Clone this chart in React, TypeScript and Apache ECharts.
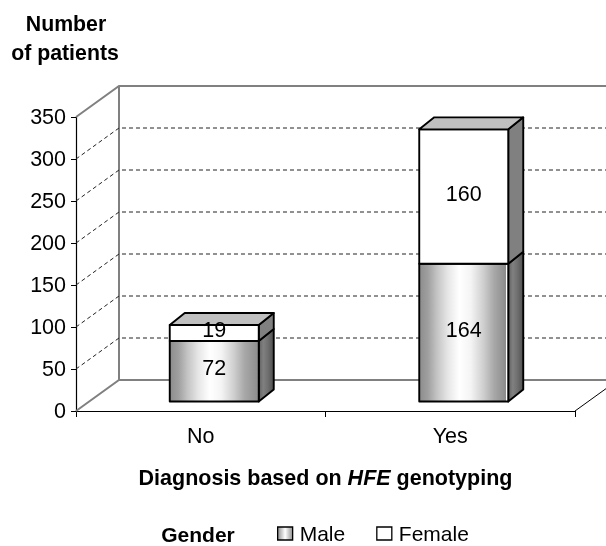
import React, { useEffect, useRef } from "react";
import * as echarts from "echarts";

const categories = ["No", "Yes"];
const maleValues = [72, 164];
const femaleValues = [19, 160];
const yTicks = [0, 50, 100, 150, 200, 250, 300, 350];

const W = 606, H = 546;
const FONT = "'Liberation Sans', Arial, sans-serif";
const DX = 43, DY = 31;          // wall depth
const BAR_OFF_X = 13.5, BAR_OFF_Y = 9.5, BAR_DX = 15, BAR_DY = 12, BAR_W = 89;

const hGrad = (stops: [number, string][]) => new echarts.graphic.LinearGradient(0, 0, 1, 0, stops.map(([offset, color]) => ({ offset, color })));
const frontMale = (whiteEdge: boolean) => hGrad([
  [0, "#8c8c8c"], [0.1, "#a0a0a0"], [0.2, "#c4c4c4"], [0.32, "#e6e6e6"], [0.45, "#ffffff"], [0.58, "#f4f4f4"],
  [0.72, "#cfcfcf"], [0.84, "#a8a8a8"], [whiteEdge ? 0.97 : 1, "#8c8c8c"], ...(whiteEdge ? [[0.97, "#ffffff"], [1, "#ffffff"]] as [number, string][] : []),
]);
const sideMale = () => hGrad([[0, "#606060"], [0.3, "#808080"], [0.6, "#707070"], [1, "#505050"]]);

function box(api: any, idx: number, lo: number, hi: number, male: boolean, label: number) {
  const [cx, y0] = api.coord([idx, lo]);
  const [, y1] = api.coord([idx, hi]);
  const xl = cx - BAR_W / 2 + BAR_OFF_X, xr = xl + BAR_W;
  const yb = y0 - BAR_OFF_Y, yt = y1 - BAR_OFF_Y;
  const stroke = { stroke: "#000", lineWidth: 1.9, lineJoin: "round" };
  const kids: any[] = [
    { type: "polygon", shape: { points: [[xr, yb], [xr + BAR_DX, yb - BAR_DY], [xr + BAR_DX, yt - BAR_DY], [xr, yt]] },
      style: { fill: male ? sideMale() : "#808080", ...stroke } },
    { type: "rect", shape: { x: xl, y: yt, width: BAR_W, height: yb - yt },
      style: { fill: male ? frontMale(idx === 1) : "#ffffff", ...stroke } },
  ];
  if (!male) kids.push({ type: "polygon", shape: { points: [[xl, yt], [xl + BAR_DX, yt - BAR_DY], [xr + BAR_DX, yt - BAR_DY], [xr, yt]] },
    style: { fill: "#c0c0c0", ...stroke } });
  kids.push({ type: "text", style: { text: String(label), x: (xl + xr) / 2, y: (yb + yt) / 2 - 3, align: "center", verticalAlign: "middle",
    font: `21.5px ${FONT}`, fill: "#000" } });
  return { type: "group", children: kids };
}

export default function App() {
  const ref = useRef<HTMLDivElement>(null);
  useEffect(() => {
    document.body.style.margin = "0";
    const chart = echarts.init(ref.current!, undefined, { renderer: "svg" });
    chart.setOption({
      animation: false,
      textStyle: { fontFamily: FONT },
      grid: { left: 76, right: 31, top: 117, bottom: 135 },
      xAxis: {
        type: "category", data: categories,
        axisLine: { lineStyle: { color: "#000", width: 1.2 } },
        axisTick: { show: true, alignWithLabel: false, length: 6, lineStyle: { color: "#000" } },
        axisLabel: { color: "#000", fontSize: 21.5, margin: 14 },
        name: "{b|Diagnosis based on }{i|HFE}{b| genotyping}",
        nameLocation: "middle", nameGap: 56,
        nameTextStyle: { rich: {
          b: { fontWeight: "bold", fontSize: 21.5, color: "#000", fontFamily: FONT },
          i: { fontWeight: "bold", fontStyle: "italic", fontSize: 21.5, color: "#000", fontFamily: FONT },
        } },
      },
      yAxis: {
        type: "value", min: 0, max: 350, interval: 50,
        axisLine: { show: true, lineStyle: { color: "#000", width: 1.2 } },
        axisTick: { show: true, length: 5, lineStyle: { color: "#000" } },
        axisLabel: { color: "#000", fontSize: 21.5, margin: 10 },
        splitLine: { show: false },
      },
      legend: {
        left: 277, top: 523, padding: 0, itemGap: 31, itemWidth: 15, itemHeight: 13, icon: "rect",
        textStyle: { color: "#000", fontSize: 21, lineHeight: 16, fontFamily: FONT, padding: [0, 0, 0, 2] },
        data: [
          { name: "Male", itemStyle: { color: hGrad([[0, "#909090"], [0.5, "#ffffff"], [1, "#909090"]]), borderColor: "#000", borderWidth: 1.3 } },
          { name: "Female", itemStyle: { color: "#ffffff", borderColor: "#000", borderWidth: 1.3 } },
        ],
      },
      graphic: [
        { type: "text", style: { text: "Number", x: 66, y: 24, align: "center", verticalAlign: "middle", font: `bold 21.3px ${FONT}`, fill: "#000" } },
        { type: "text", style: { text: "of patients", x: 65, y: 53, align: "center", verticalAlign: "middle", font: `bold 21.3px ${FONT}`, fill: "#000" } },
        { type: "text", style: { text: "Gender", x: 198, y: 534.5, align: "center", verticalAlign: "middle", font: `bold 21px ${FONT}`, fill: "#000" } },
      ],
      series: [
        {
          type: "custom", name: "walls", coordinateSystem: "cartesian2d", silent: true, z: 1,
          encode: { y: 0 }, data: yTicks.map((t) => [t]),
          renderItem: (params: any, api: any) => {
            const cs = params.coordSys;
            const t = api.value(0);
            const y = api.coord([0, t])[1];
            const xL = cs.x, xB = cs.x + DX, yB = y - DY, xR = W;
            if (t === 0 || t === 350) {
              const kids: any[] = [{ type: "polyline", shape: { points: [[xL, y], [xB, yB], [xR, yB]] }, style: { fill: "none", stroke: "#808080", lineWidth: 2 } }];
              if (t === 0) {
                const top = api.coord([0, 350])[1] - DY;
                kids.push({ type: "line", shape: { x1: xB, y1: yB, x2: xB, y2: top }, style: { stroke: "#808080", lineWidth: 2 } });
                kids.push({ type: "line", shape: { x1: cs.x + cs.width, y1: y, x2: cs.x + cs.width + DX, y2: yB }, style: { stroke: "#000", lineWidth: 1 } });
              }
              return { type: "group", children: kids };
            }
            return { type: "polyline", shape: { points: [[xL, y], [xB, yB], [xR, yB]] }, style: { fill: "none", stroke: "#222", lineWidth: 1, lineDash: [4, 3] } };
          },
        },
        {
          type: "custom", name: "Male", coordinateSystem: "cartesian2d", z: 3,
          data: maleValues.map((v, i) => [i, v]),
          renderItem: (_p: any, api: any) => box(api, api.value(0), 0, api.value(1), true, api.value(1)),
        },
        {
          type: "custom", name: "Female", coordinateSystem: "cartesian2d", z: 3,
          data: femaleValues.map((v, i) => [i, v]),
          renderItem: (_p: any, api: any) => {
            const i = api.value(0);
            return box(api, i, maleValues[i], maleValues[i] + api.value(1), false, api.value(1));
          },
        },
      ],
    });
    return () => chart.dispose();
  }, []);
  return <div ref={ref} style={{ position: "fixed", left: 0, top: 0, width: W, height: H }} />;
}
